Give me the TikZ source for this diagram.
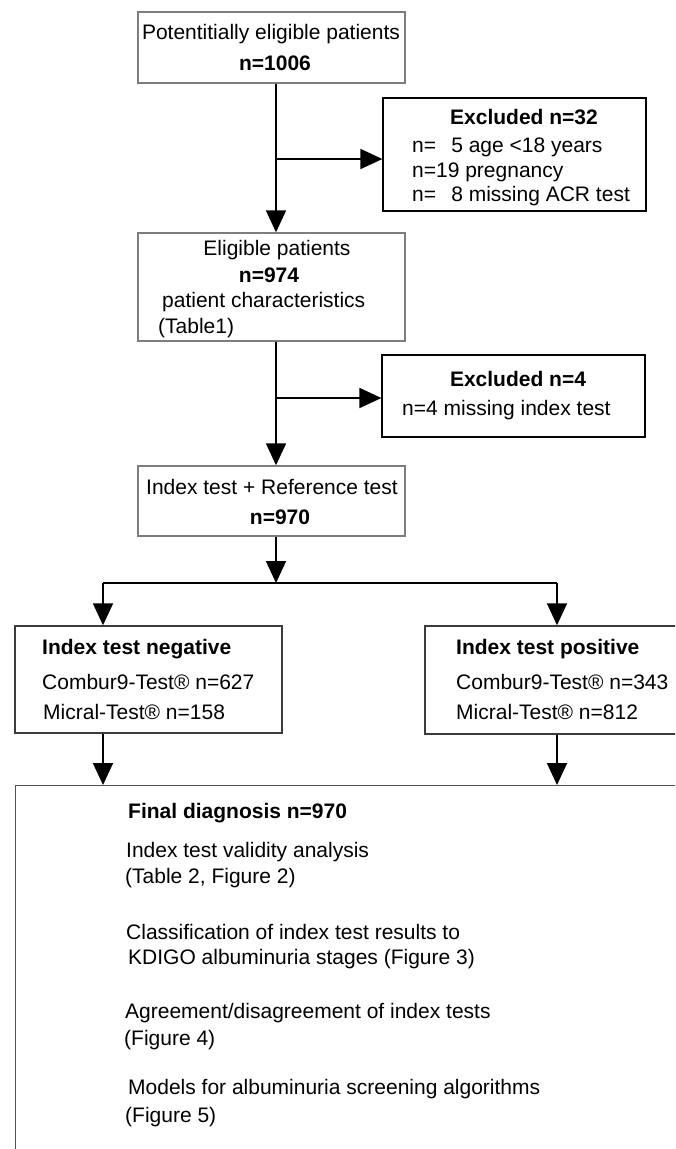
\documentclass[tikz,border=0pt]{standalone}
\usepackage{fontspec}
\setmainfont{Liberation Sans}
\usetikzlibrary{positioning,calc,arrows.meta}
\tikzset{>={Triangle[length=22pt,width=20pt]}}
\definecolor{boxgray}{RGB}{125,125,125}
\definecolor{darkbox}{RGB}{60,60,60}

\begin{document}
\begin{tikzpicture}[x=1pt,y=-1pt,
  box/.style={draw=boxgray,line width=1.4pt,inner sep=0pt,minimum width=267pt},
  exbox/.style={draw=black,line width=1.2pt,inner sep=0pt,minimum width=263pt},
  txt/.style={inner sep=0pt,font=\fontsize{21}{25}\selectfont},
  arr/.style={->,line width=1.8pt}]
% Page of 675 x 1149
\useasboundingbox (0,0) rectangle (675,1149);
\clip (0,0) rectangle (675,1149);

% Boxes
\node[box,minimum height=71pt] (top) at (271.5,47.5) {};
\node[exbox,minimum height=113pt] (exc1) at (514.5,154.5) {};
\node[box,minimum height=108pt] (elig) at (271.5,287) {};
\node[exbox,minimum height=82pt] (exc2) at (513.5,396) {};
\node[box,minimum height=70pt] (index) at (271.5,501) {};
\node[box,draw=darkbox,minimum height=107pt] (neg) at (148.5,679.5) {};
\node[box,draw=darkbox,minimum height=108pt] (pos) at (558.5,680) {};
\node[box,draw=darkbox!70!boxgray,minimum width=720pt,minimum height=420pt,anchor=north west] (final) at (15,785) {};

% Texts of the upper boxes
\node[txt] (top-a) at (271,34) {Potentitially eligible patients};
\node[txt,font=\fontsize{21}{25}\selectfont\bfseries] (top-b) at (275,63) {n=1006};
\node[txt,font=\fontsize{21}{25}\selectfont\bfseries] (exc1-a) at (524,117) {Excluded n=32};
\node[txt,anchor=west] (exc1-b) at (412,147) {n=\phantom{1}\,5 age <18 years};
\node[txt,anchor=west] (exc1-c) at (412,172) {n=19 pregnancy};
\node[txt,anchor=west] (exc1-d) at (412,196) {n=\phantom{1}\,8 missing ACR test};
\node[txt] (elig-a) at (277,250) {Eligible patients};
\node[txt,font=\fontsize{21}{25}\selectfont\bfseries] (elig-b) at (269,275) {n=974};
\node[txt,anchor=west] (elig-c) at (162,302) {patient characteristics};
\node[txt,anchor=west] (elig-d) at (158,328) {(Table1)};
\node[txt,font=\fontsize{21}{25}\selectfont\bfseries] (exc2-a) at (518,379) {Excluded n=4};
\node[txt,anchor=west] (exc2-b) at (402,410) {n=4 missing index test};
\node[txt] (index-a) at (272,487) {Index test + Reference test};
\node[txt,font=\fontsize{21}{25}\selectfont\bfseries] (index-b) at (280,517) {n=970};

% Texts of the result boxes
\node[txt,anchor=west,font=\fontsize{21}{25}\selectfont\bfseries] (neg-a) at (42,649) {Index test negative};
\node[txt,anchor=west] (neg-b) at (42,682) {Combur9-Test® n=627};
\node[txt,anchor=west] (neg-c) at (43,712) {Micral-Test® n=158};
\node[txt,anchor=west,font=\fontsize{21}{25}\selectfont\bfseries] (pos-a) at (456,649) {Index test positive};
\node[txt,anchor=west] (pos-b) at (456,682) {Combur9-Test® n=343};
\node[txt,anchor=west] (pos-c) at (456,712) {Micral-Test® n=812};

% Final diagnosis
\node[txt,anchor=west,font=\fontsize{21}{25}\selectfont\bfseries] (fin-a) at (128,813) {Final diagnosis n=970};
\foreach \x/\y/\t in {126/852/{Index test validity analysis},
    125/878/{(Table 2, Figure 2)},
    126/932/{Classification of index test results to},
    128/959/{KDIGO albuminuria stages (Figure 3)},
    125/1013/{Agreement/disagreement of index tests},
    124/1040/{(Figure 4)},
    128/1089/{Models for albuminuria screening algorithms},
    125/1117/{(Figure 5)}}
  \node[txt,anchor=west] (fin-\y) at (\x,\y) {\t};

% Connectors
\coordinate (sp1) at (276,159);
\coordinate (sp2) at (276,398);
\coordinate (split) at (276,583);
\coordinate (nl) at (103,583);
\coordinate (pr) at (557,583);
\draw[arr] (top.south -| sp1) -- (elig.north -| sp1);
\draw[arr] (sp1) -- (sp1 -| exc1.west);
\draw[arr] (elig.south -| sp2) -- (index.north -| sp2);
\draw[arr] (sp2) -- (sp2 -| exc2.west);
\draw[arr] (index.south -| split) -- (split);
\draw[line width=1.8pt] (nl) -- (pr);
\draw[arr] (nl) -- (nl |- neg.north);
\draw[arr] (pr) -- (pr |- pos.north);
\draw[arr] (nl |- neg.south) -- (nl |- final.north);
\draw[arr] (pr |- pos.south) -- (pr |- final.north);
\end{tikzpicture}
\end{document}
